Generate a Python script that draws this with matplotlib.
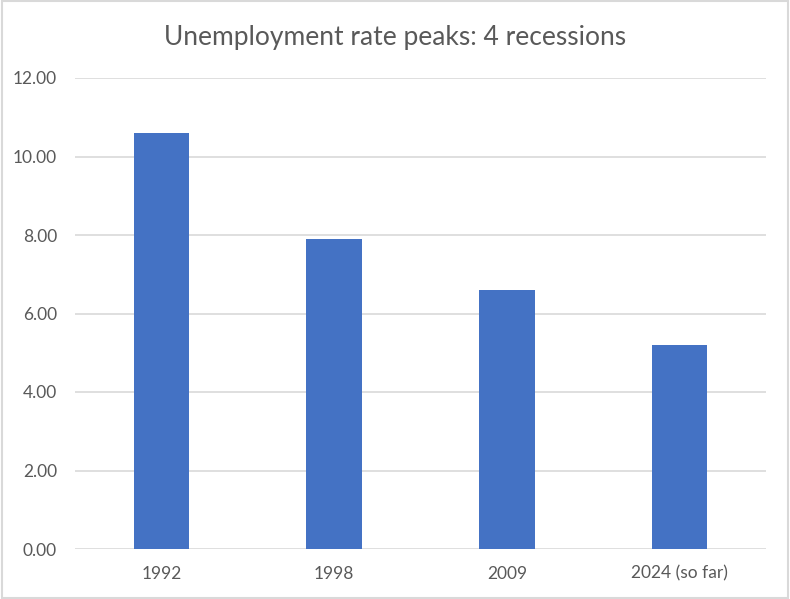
import matplotlib
matplotlib.use("Agg")
import matplotlib.pyplot as plt
import numpy as np

# Peak unemployment rate per recession
years = ["1992", "1998", "2009", "2024 (so far)"]
peaks = [10.6, 7.9, 6.6, 5.2]

plt.rcParams['font.family'] = ['Lato', 'DejaVu Sans']

fig = plt.figure(figsize=(7.9, 5.99), dpi=100)
ax = fig.add_axes([75/790, (599-549)/599, (766-75)/790, (549-78)/599])

x = np.arange(len(years))
ax.bar(x, peaks, width=0.32, color="#4472C4", zorder=3)

ax.set_xlim(-0.5, len(years) - 0.5)
ax.set_ylim(0, 12)
ax.set_yticks(np.arange(0, 12.1, 2))
ax.set_yticklabels([f"{v:.2f}" for v in np.arange(0, 12.1, 2)])
ax.set_xticks(x)
ax.set_xticklabels(years)

ax.yaxis.grid(True, color="#D9D9D9", linewidth=1.2, zorder=0)
for s in ax.spines.values():
    s.set_visible(False)
ax.tick_params(axis="both", length=0, colors="#595959", labelsize=12.5)
ax.tick_params(axis="x", pad=12)
ax.tick_params(axis="y", pad=13)

fig.text(0.5, 1 - 37/599, "Unemployment rate peaks: 4 recessions",
         ha="center", va="center", fontsize=19, color="#595959")

# light border round the whole chart
fig.patches.append(plt.Rectangle((0.002, 0.002), 0.996, 0.996, transform=fig.transFigure,
                                 fill=False, edgecolor="#D9D9D9", linewidth=1.5))

fig.savefig("out.png", dpi=100)
